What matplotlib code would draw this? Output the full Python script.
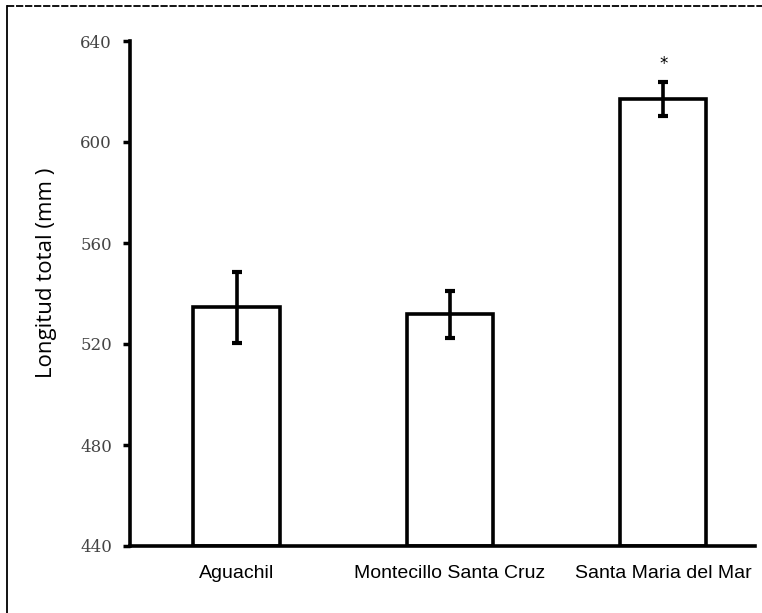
import matplotlib as mpl
import matplotlib.pyplot as plt
from matplotlib.lines import Line2D

# values
sites = ['Aguachil', 'Montecillo Santa Cruz', 'Santa Maria del Mar']
means = [534.5, 531.7, 617.0]
errs = [14.0, 9.2, 6.8]
stars = ['', '', '*']
yticks = [440, 480, 520, 560, 600, 640]

fig = plt.figure(figsize=(7.62, 6.13), dpi=100)
ax = fig.add_axes([130 / 762, 1 - 546 / 613, 625 / 762, 505 / 613])

x = range(len(sites))
ax.bar(x, [m - 440 for m in means], bottom=440, width=0.405,
       color='white', edgecolor='black', linewidth=2.6, zorder=2)
ax.errorbar(x, means, yerr=errs, fmt='none', ecolor='black',
            elinewidth=2.6, capsize=3.5, capthick=3, zorder=3)
for i, s in enumerate(stars):
    if s:
        ax.text(i, means[i] + errs[i] + 7, s, ha='center', va='center',
                fontsize=12, family='DejaVu Sans')

ax.set_xlim(-0.5, 2.43)
ax.set_ylim(440, 640)
ax.set_yticks(yticks)
ax.set_yticklabels([str(t) for t in yticks], family='DejaVu Serif',
                   fontsize=12, color='#444444')
ax.set_xticks(list(x))
ax.set_xticklabels(sites, family='Liberation Sans', fontsize=14)
ax.tick_params(axis='x', length=0, pad=14)
ax.tick_params(axis='y', length=5, width=2.5, pad=8)
for side in ['top', 'right']:
    ax.spines[side].set_visible(False)
for side in ['left', 'bottom']:
    ax.spines[side].set_linewidth(2.6)
ax.set_ylabel('Longitud total (mm )', family='Open Sans', fontsize=16)
ax.yaxis.set_label_coords(-0.117, 0.54)

# outer frame of the original graphic (cropped at right and bottom)
fig.add_artist(Line2D([7 / 762, 7 / 762], [0, 1 - 6 / 613], color='black',
                      linewidth=1.3, transform=fig.transFigure))
fig.add_artist(Line2D([7 / 762, 1], [1 - 6 / 613, 1 - 6 / 613], color='black',
                      linewidth=1.3, linestyle=(0, (4, 1)),
                      transform=fig.transFigure))

fig.savefig('out.png', dpi=100)
